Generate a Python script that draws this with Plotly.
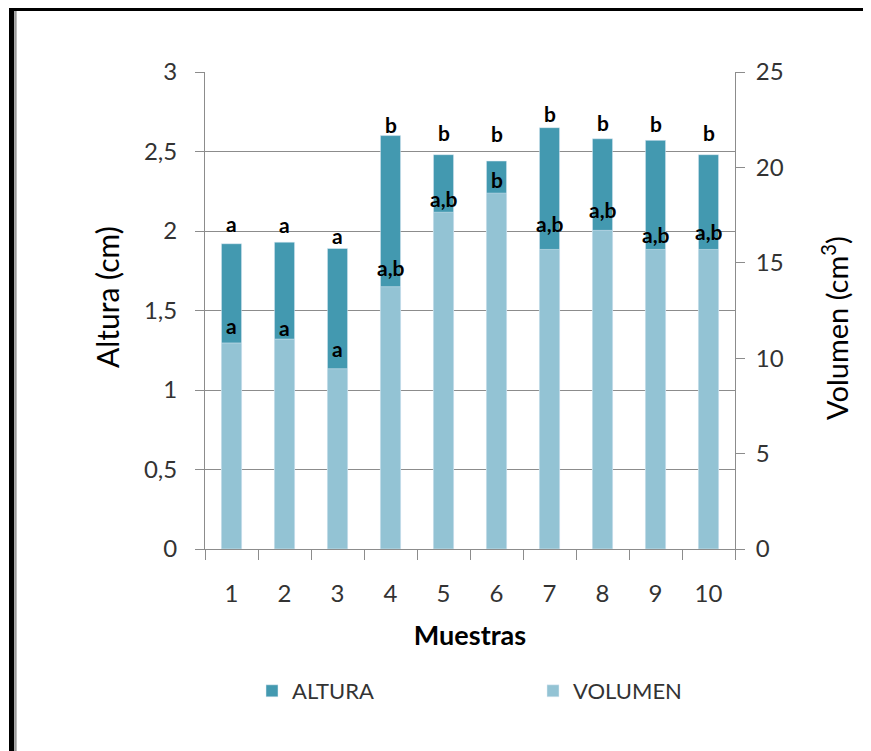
import plotly.graph_objects as go

# ---- data ----
muestras = ["1", "2", "3", "4", "5", "6", "7", "8", "9", "10"]
altura = [1.92, 1.93, 1.89, 2.60, 2.48, 2.44, 2.65, 2.58, 2.57, 2.48]
volumen = [10.8, 11.0, 9.45, 13.75, 17.65, 18.65, 15.7, 16.7, 15.7, 15.7]
altura_letras = ["a", "a", "a", "b", "b", "b", "b", "b", "b", "b"]
volumen_letras = ["a", "a", "a", "a,b", "a,b", "b", "a,b", "a,b", "a,b", "a,b"]

# ---- style ----
alt_shift = [20, 18, 13, 11, 22, 28, 14, 16, 17, 22]   # px above bar top
vol_shift = [17, 12, 20, 19, 14, 14, 26, 21, 15, 18]
C_ALT = "#4399B0"
C_VOL = "#93C3D4"
GRID = "#8C8C8C"
FONT = "Lato"
TXT = "#333333"

OFF = 8  # page body margin
W, H = 871 - OFF, 751 - OFF
ML, MR, MT, MB = 205 - OFF, 136, 72 - OFF, 202
PW, PH = W - ML - MR, H - MT - MB


def px(x):  # page pixel -> paper
    return (x - OFF - ML) / PW


def py(y):
    return (H - MB - (y - OFF)) / PH


fig = go.Figure()
fig.add_trace(go.Bar(x=muestras, y=altura, name="ALTURA", marker_color=C_ALT,
                     width=0.38, yaxis="y", offsetgroup="g", legend="legend"))
fig.add_trace(go.Bar(x=muestras, y=volumen, name="VOLUMEN", marker_color=C_VOL,
                     width=0.38, yaxis="y2", offsetgroup="g", legend="legend2"))

lab_font = dict(family=FONT, size=21, color="black")
ann = []
for i, m in enumerate(muestras):
    ann.append(dict(x=i, y=altura[i], xref="x", yref="y", text="<b>%s</b>" % altura_letras[i],
                    showarrow=False, yanchor="middle", yshift=alt_shift[i], font=lab_font))
    ann.append(dict(x=i, y=volumen[i], xref="x", yref="y2", text="<b>%s</b>" % volumen_letras[i],
                    showarrow=False, yanchor="middle", yshift=vol_shift[i], font=lab_font))

# axis titles
ann.append(dict(x=px(107), y=py(297), xref="paper", yref="paper", text="Altura (cm)",
                textangle=-90, showarrow=False, xanchor="center", yanchor="middle",
                font=dict(family=FONT, size=30, color="black")))
ann.append(dict(x=px(835), y=py(328), xref="paper", yref="paper", text="Volumen (cm<sup>3</sup>)",
                textangle=-90, showarrow=False, xanchor="center", yanchor="middle",
                font=dict(family=FONT, size=29, color="black")))

shapes = [
    dict(type="line", xref="paper", yref="paper", x0=px(15.4), x1=px(15.4), y0=py(11), y1=py(770),
         line=dict(color="#9A9A9A", width=2.5)),
    dict(type="line", xref="paper", yref="paper", x0=px(11.5), x1=px(11.5), y0=py(7), y1=py(770),
         line=dict(color="black", width=5)),
    dict(type="line", xref="paper", yref="paper", x0=px(9), x1=px(890), y0=py(9), y1=py(9),
         line=dict(color="black", width=4)),
]

leg_common = dict(orientation="h", yanchor="middle", xanchor="left",
                  font=dict(family=FONT, size=22, color=TXT), itemclick=False,
                  bgcolor="rgba(0,0,0,0)")

fig.update_layout(
    width=W, height=H,
    margin=dict(l=ML, r=MR, t=MT, b=MB),
    paper_bgcolor="white", plot_bgcolor="white",
    separators=", ",
    barmode="overlay",
    font=dict(family=FONT, color=TXT, size=22),
    showlegend=True,
    legend=dict(x=px(252), y=py(691), **leg_common),
    legend2=dict(x=px(533), y=py(691), **leg_common),
    xaxis=dict(type="category", range=[-0.5, 9.5], showline=True, linecolor=GRID, linewidth=1,
               ticks="outside", tickson="boundaries", ticklen=10, tickcolor=GRID,
               showgrid=False, tickfont=dict(size=24, color=TXT), ticklabelstandoff=23,
               title=dict(text="<b>Muestras</b>", font=dict(size=27, color="black"), standoff=20)),
    yaxis=dict(range=[0, 3], dtick=0.5, showgrid=True, gridcolor=GRID, gridwidth=1,
               showline=True, linecolor=GRID, ticks="outside", ticklen=9, tickcolor=GRID,
               zeroline=False, tickfont=dict(size=24, color=TXT), ticklabelstandoff=13),
    yaxis2=dict(range=[0, 25], dtick=5, overlaying="y", side="right", showgrid=False,
                showline=True, linecolor=GRID, ticks="outside", ticklen=9, tickcolor=GRID,
                zeroline=False, tickfont=dict(size=24, color=TXT), ticklabelstandoff=6),
    annotations=ann,
    shapes=shapes,
)

fig.write_html("out.html")
